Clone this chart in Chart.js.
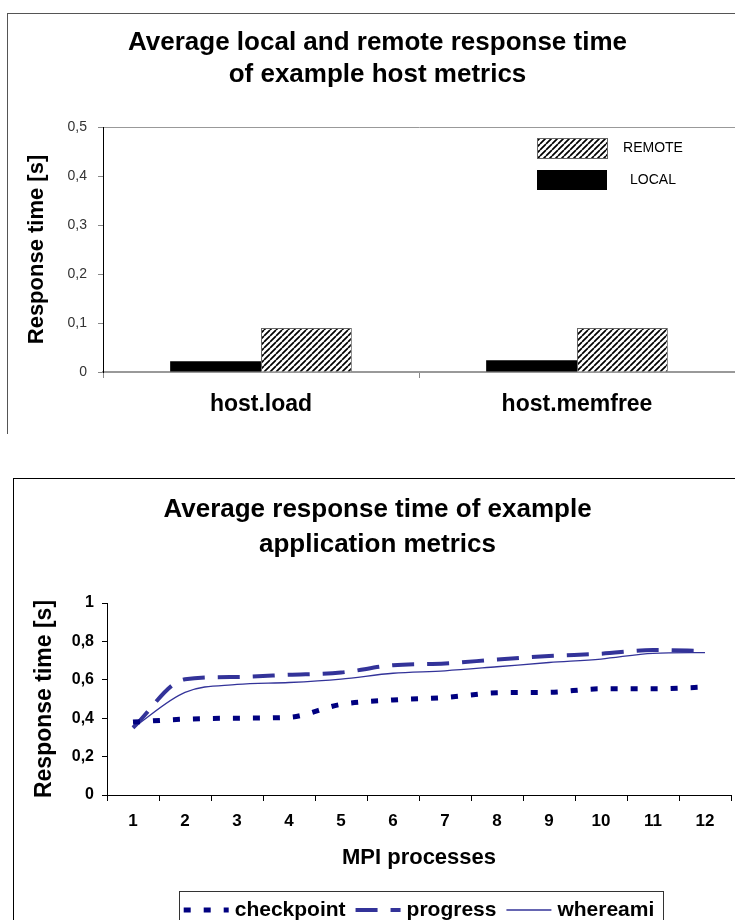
<!DOCTYPE html>
<html><head><meta charset="utf-8">
<script src="https://cdn.jsdelivr.net/npm/chart.js@4/dist/chart.umd.min.js"></script>
<style>
html,body{margin:0;padding:0;background:#fff;}
body{width:735px;height:920px;position:relative;overflow:hidden;}
.frame{position:absolute;border-left:1px solid #555;border-top:1px solid #555;}
#f1{left:7px;top:13px;width:760px;height:420px;}
#f2{left:13px;top:478px;width:760px;height:460px;border-color:#000;}
#w1{position:absolute;left:0;top:0;width:735px;height:440px;}
#w2{position:absolute;left:0;top:460px;width:735px;height:460px;}
canvas{display:block;}
</style></head><body>
<div class="frame" id="f1"></div><div class="frame" id="f2"></div>
<div id="w1"><canvas id="c1" width="735" height="440"></canvas></div>
<div id="w2"><canvas id="c2" width="735" height="460"></canvas></div>
<script>
// ---- data: top chart ----
const hostCategories = ['host.load', 'host.memfree'];
const localValues = [0.022, 0.024];
const remoteValues = [0.09, 0.09];
const hostTicks = [0, 0.1, 0.2, 0.3, 0.4, 0.5];
const hostTitle = ['Average local and remote response time', 'of example host metrics'];

// ---- data: bottom chart ----
const mpiProcesses = ['1','2','3','4','5','6','7','8','9','10','11','12'];
const checkpointValues = [0.38, 0.395, 0.40, 0.405, 0.472, 0.495, 0.508, 0.532, 0.535, 0.553, 0.553, 0.562];
const progressValues = [0.35, 0.603, 0.615, 0.626, 0.638, 0.676, 0.685, 0.706, 0.724, 0.736, 0.755, 0.75];
const whereamiValues = [0.35, 0.535, 0.576, 0.586, 0.604, 0.634, 0.647, 0.668, 0.69, 0.708, 0.738, 0.742];
const appTicks = [0, 0.2, 0.4, 0.6, 0.8, 1];
const appTitle = ['Average response time of example', 'application metrics'];

const FAM = '"Liberation Sans", Arial, Helvetica, sans-serif';
Chart.defaults.font.family = FAM;
const fmt = v => String(Math.round(v * 10) / 10).replace('.', ',');

// hatch pattern for REMOTE
const hatch = (() => {
  const c = document.createElement('canvas'); c.width = 6; c.height = 6;
  const x = c.getContext('2d');
  x.fillStyle = '#fff'; x.fillRect(0, 0, 6, 6);
  x.strokeStyle = '#000'; x.lineWidth = 1.7;
  x.beginPath();
  for (const k of [-6, 0, 6]) { x.moveTo(k, 6); x.lineTo(k + 6, 0); }
  x.stroke();
  return document.getElementById('c1').getContext('2d').createPattern(c, 'repeat');
})();

const hostLegend = {
  id: 'hostLegend',
  afterDraw(chart) {
    const ctx = chart.ctx, ca = chart.chartArea, ds = chart.data.datasets;
    const rows = [{d: ds[1], dy: 11}, {d: ds[0], dy: 43}];
    ctx.save();
    rows.forEach(r => {
      const x = ca.left + 434, y = ca.top + r.dy;
      ctx.fillStyle = r.d.backgroundColor;
      ctx.fillRect(x, y, 70, 20);
      if (r.d.borderWidth) { ctx.strokeStyle = '#666'; ctx.lineWidth = 1; ctx.strokeRect(x + 0.5, y + 0.5, 70, 20); }
      ctx.fillStyle = '#000'; ctx.font = '14px ' + FAM; ctx.textAlign = 'center'; ctx.textBaseline = 'middle';
      ctx.fillText(r.d.label, x + 70 + 46, y + 10);
    });
    ctx.restore();
  }
};

new Chart(document.getElementById('c1'), {
  type: 'bar',
  data: {
    labels: hostCategories,
    datasets: [
      {label: 'LOCAL', data: localValues, backgroundColor: '#000', borderWidth: 0},
      {label: 'REMOTE', data: remoteValues, backgroundColor: hatch, borderColor: '#666', borderWidth: 1}
    ]
  },
  options: {
    responsive: false, animation: false,
    categoryPercentage: 0.575, barPercentage: 1,
    layout: {padding: {left: 20, right: 0, top: 0, bottom: 0}},
    plugins: {
      legend: {display: false}, tooltip: {enabled: false},
      title: {display: true, text: hostTitle, color: '#000',
        font: {size: 26, weight: 'bold', lineHeight: '32px'}, padding: {top: 27, bottom: 36}}
    },
    scales: {
      x: {
        grid: {drawOnChartArea: false, drawTicks: true, tickLength: 6, color: '#888', offset: true},
        border: {display: true, color: '#999', width: 2},
        ticks: {color: '#000', font: {size: 23, weight: 'bold'}, padding: 13, maxRotation: 0, autoSkip: false},
        afterFit: s => { s.height = 68; }
      },
      y: {
        min: 0, max: 0.5,
        afterBuildTicks: s => { s.ticks = hostTicks.map(v => ({value: v})); },
        ticks: {callback: v => fmt(v), color: '#333', font: {size: 14}, padding: 11},
        grid: {drawOnChartArea: true, tickLength: 5, tickColor: '#888',
          color: c => (c.tick && c.tick.value === 0.5) ? '#999' : 'rgba(0,0,0,0)'},
        border: {display: true, color: '#000'},
        title: {display: true, text: 'Response time [s]', color: '#000',
          font: {size: 22, weight: 'bold'}, padding: {top: 4, bottom: 0}},
        afterFit: s => { s.width = 83; }
      }
    }
  },
  plugins: [hostLegend]
});

const appLegend = {
  id: 'appLegend',
  afterDraw(chart) {
    const ctx = chart.ctx, ca = chart.chartArea;
    ctx.save();
    ctx.font = 'bold 21px ' + FAM;
    const sw = 45, gap = 6, itemGap = 10;
    const items = chart.data.datasets.map(d => ({d, w: ctx.measureText(d.label).width}));
    const total = items.reduce((a, it) => a + sw + gap + it.w, 0) + itemGap * (items.length - 1);
    let x = (ca.left + ca.right) / 2 - total / 2;
    const top = ca.bottom + 96, cy = ca.bottom + 115;
    ctx.strokeStyle = '#333'; ctx.lineWidth = 1;
    ctx.strokeRect(Math.round(x - 5) + 0.5, top + 0.5, Math.round(total + 13), 80);
    items.forEach(it => {
      ctx.beginPath();
      ctx.strokeStyle = it.d.borderColor; ctx.lineWidth = it.d.borderWidth;
      ctx.setLineDash(it.d.borderDash || []);
      ctx.moveTo(x, cy); ctx.lineTo(x + sw, cy); ctx.stroke();
      ctx.setLineDash([]);
      ctx.fillStyle = '#000'; ctx.textBaseline = 'middle'; ctx.textAlign = 'left';
      ctx.fillText(it.d.label, x + sw + gap, cy);
      x += sw + gap + it.w + itemGap;
    });
    ctx.restore();
  }
};

new Chart(document.getElementById('c2'), {
  type: 'line',
  data: {
    labels: mpiProcesses,
    datasets: [
      {label: 'checkpoint', data: checkpointValues, borderColor: '#000080', borderWidth: 5, borderDash: [7, 13],
        pointRadius: 0, cubicInterpolationMode: 'monotone', fill: false},
      {label: 'progress', data: progressValues, borderColor: '#333399', borderWidth: 4, borderDash: [22, 13],
        pointRadius: 0, cubicInterpolationMode: 'monotone', fill: false},
      {label: 'whereami', data: whereamiValues, borderColor: '#333399', borderWidth: 1.3,
        pointRadius: 0, cubicInterpolationMode: 'monotone', fill: false}
    ]
  },
  options: {
    responsive: false, animation: false,
    layout: {padding: {left: 24, right: 4, top: 0, bottom: 45}},
    plugins: {
      legend: {display: false}, tooltip: {enabled: false},
      title: {display: true, text: appTitle, color: '#000',
        font: {size: 26, weight: 'bold', lineHeight: '35px'}, padding: {top: 32, bottom: 41}}
    },
    scales: {
      x: {
        offset: true,
        grid: {drawOnChartArea: false, tickLength: 6, color: '#000', offset: true},
        border: {display: true, color: '#000'},
        ticks: {color: '#000', font: {size: 17, weight: 'bold'}, padding: 10, maxRotation: 0, autoSkip: false},
        title: {display: true, text: 'MPI processes', color: '#000', font: {size: 22, weight: 'bold'},
          padding: {top: 0, bottom: 4}},
        afterFit: s => { s.height = 80; }
      },
      y: {
        min: 0, max: 1,
        afterBuildTicks: s => { s.ticks = appTicks.map(v => ({value: v})); },
        ticks: {callback: v => fmt(v), color: '#000', font: {size: 16, weight: 'bold'}, padding: 8},
        grid: {drawOnChartArea: false, tickLength: 5, color: '#000'},
        border: {display: true, color: '#000'},
        title: {display: true, text: 'Response time [s]', color: '#000',
          font: {size: 23, weight: 'bold'}, padding: {top: 7, bottom: 0}},
        afterFit: s => { s.width = 83; }
      }
    }
  },
  plugins: [appLegend]
});
</script>
</body></html>
